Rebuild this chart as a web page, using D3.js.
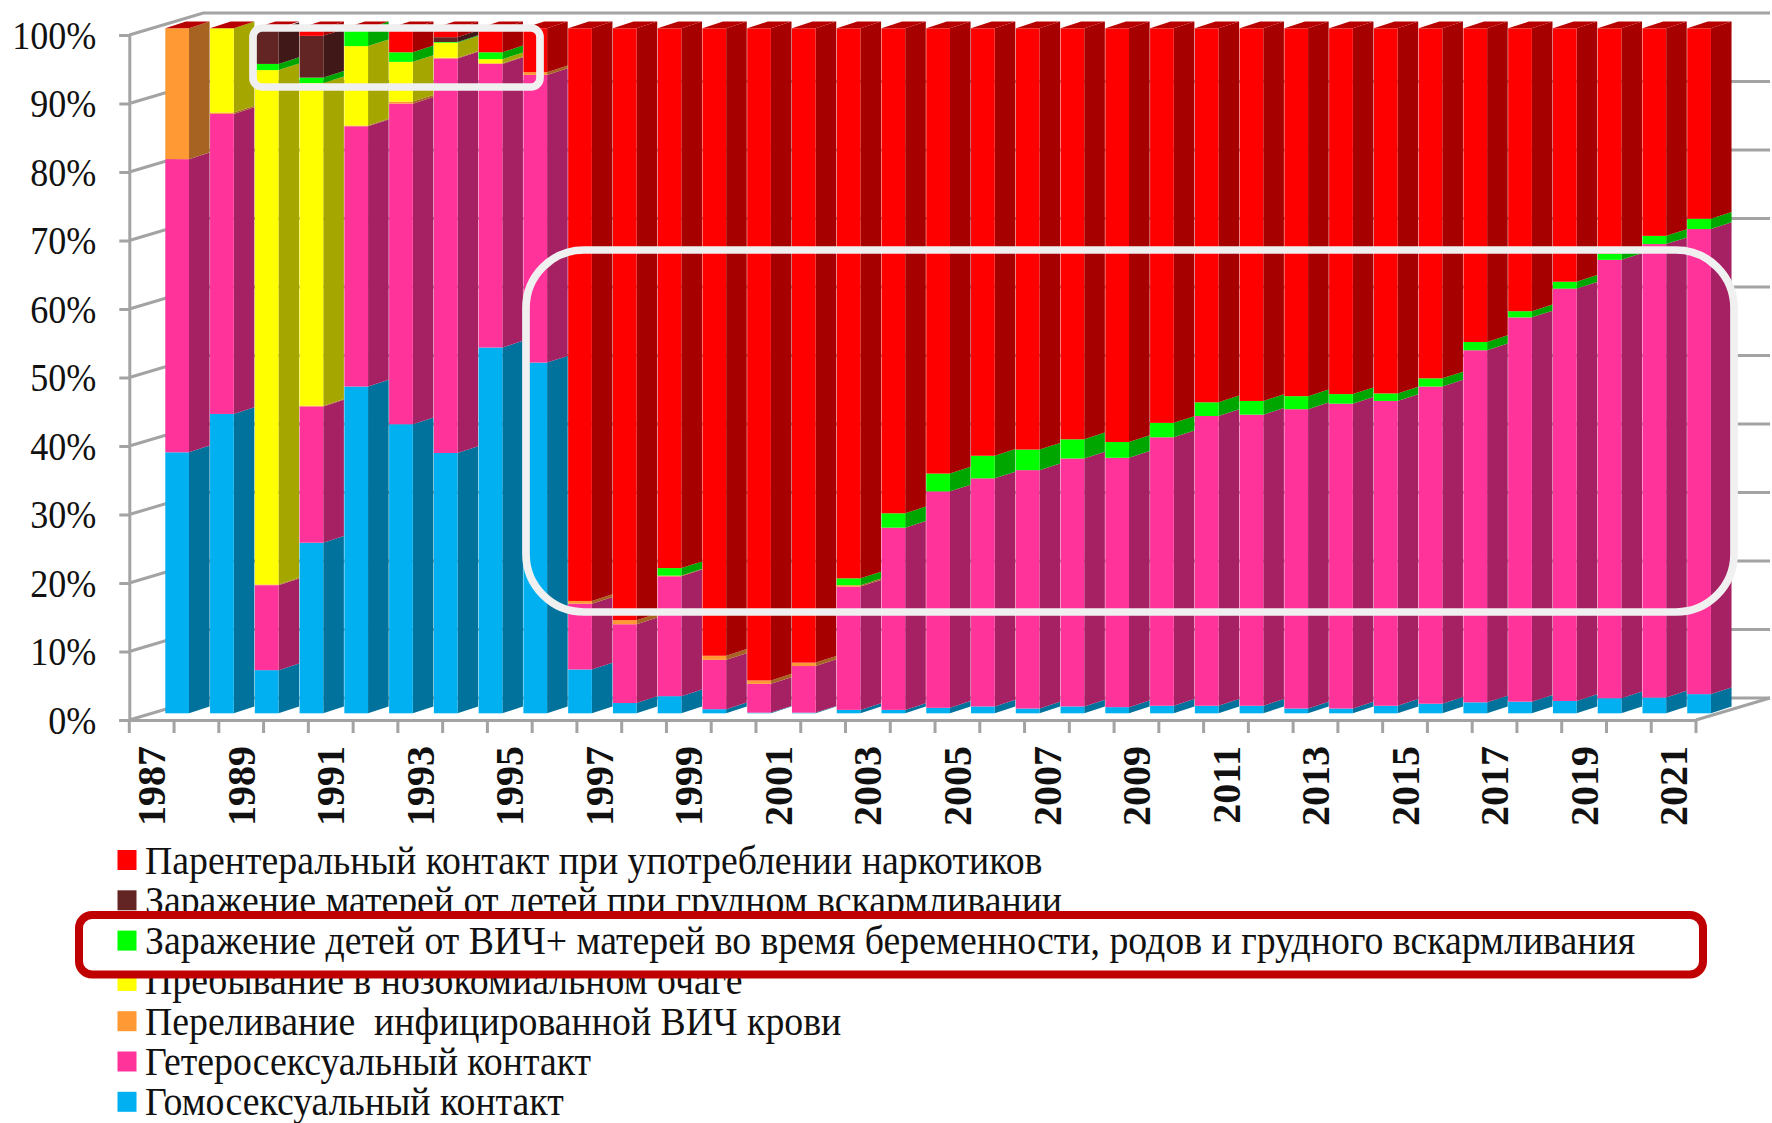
<!DOCTYPE html>
<html>
<head>
<meta charset="utf-8">
<script src="https://cdn.jsdelivr.net/npm/d3@7"></script>
<style>
  html, body { margin: 0; background: #fff; }
  svg { display: block; }
  text { font-family: "Liberation Serif", serif; fill: #111; }
  .legend text { white-space: pre; }
</style>
</head>
<body>
<div id="chart"></div>
<script>
const years = d3.range(1987, 2022);

//shares in percent, bottom of the stack first
const homo = [38.1, 43.7, 6.3, 24.9, 47.7, 42.2, 38.0, 53.4, 51.2, 6.4, 1.5, 2.5, 0.6, 0.1, 0.1, 0.5, 0.5, 0.8, 1.0, 0.7, 1.0, 0.9, 1.1, 1.1, 1.1, 0.7, 0.7, 1.1, 1.4, 1.6, 1.7, 1.8, 2.2, 2.3, 2.8];
const hetero = [42.8, 43.8, 12.4, 19.9, 38.0, 46.8, 57.6, 41.4, 42.0, 9.6, 11.5, 17.5, 7.2, 4.2, 6.8, 18.0, 26.6, 31.6, 33.3, 34.8, 36.2, 36.4, 39.2, 42.3, 42.5, 43.7, 44.5, 44.5, 46.3, 51.4, 56.1, 60.2, 64.0, 66.2, 67.9];
const transfusion = [19.1, 0.2, 0.1, 0.1, 0.1, 0.3, 0.1, 0.1, 0.4, 0.4, 0.6, 0.1, 0.6, 0.5, 0.5, 0.2, 0, 0, 0, 0, 0, 0, 0, 0, 0, 0, 0, 0, 0, 0, 0, 0, 0, 0, 0];
const nosocomial = [0, 12.3, 75.1, 47.1, 11.6, 5.8, 2.2, 0.6, 0, 0, 0, 0, 0, 0, 0, 0, 0, 0, 0, 0, 0, 0, 0, 0, 0, 0, 0, 0, 0, 0, 0, 0, 0, 0, 0];
const children = [0, 0, 0.9, 0.8, 2.6, 1.4, 0.1, 1.0, 0, 0, 0, 1.1, 0, 0, 0, 1.0, 2.1, 2.6, 3.3, 3.0, 2.8, 2.3, 2.1, 2.0, 2.0, 1.9, 1.4, 1.1, 1.2, 1.2, 0.9, 1.0, 0.9, 1.2, 1.5];
const mothers = [0, 0, 5.1, 6.1, 0, 0, 0.7, 0, 0, 0, 0, 0, 0, 0, 0, 0, 0, 0, 0, 0, 0, 0, 0, 0, 0, 0, 0, 0, 0, 0, 0, 0, 0, 0, 0];
const drugs = [0, 0, 0, 1.1, 0, 3.5, 1.3, 3.5, 6.4, 83.6, 86.4, 78.8, 91.6, 95.2, 92.6, 80.3, 70.8, 65.0, 62.4, 61.5, 60.0, 60.4, 57.6, 54.6, 54.4, 53.7, 53.4, 53.3, 51.1, 45.8, 41.3, 37.0, 32.9, 30.3, 27.8];

const seriesKeys = ["homo", "hetero", "transfusion", "nosocomial", "children", "mothers", "drugs"];
const seriesValues = [homo, hetero, transfusion, nosocomial, children, mothers, drugs];
const seriesColors = ["#00b0f0", "#ff3399", "#ff9933", "#ffff00", "#00ff00", "#632523", "#ff0000"];

//legend runs top to bottom, opposite to the stack
const legendLabels = [
  "Парентеральный контакт при употреблении наркотиков",
  "Заражение матерей от детей при грудном вскармливании",
  "Заражение детей от ВИЧ+ матерей во время беременности, родов и грудного вскармливания",
  "Пребывание в нозокомиальном очаге",
  "Переливание  инфицированной ВИЧ крови",
  "Гетеросексуальный контакт",
  "Гомосексуальный контакт",
];
const legendColors = ["#ff0000", "#632523", "#00ff00", "#ffff00", "#ff9933", "#ff3399", "#00b0f0"];

const yTicks = d3.range(0, 101, 10);

//data process
const rows = years.map((year, i) => {
  const row = { year };
  seriesKeys.forEach((key, k) => (row[key] = seriesValues[k][i]));
  return row;
});
const stacked = d3.stack().keys(seriesKeys)(rows);

//size
const width = 1772;
const height = 1123;
const wall = { dx: 74, dy: -22 }; // depth of the 3d box
const bar = { offset: 36, lift: 6.7, width: 23.7, dx: 20.6, dy: -6.7 };
const axisColor = "#a3a3a3";

//scale
const xScale = d3.scaleBand().domain(years).range([129.3, 1696]);
const yScale = d3.scaleLinear().domain([0, 100]).range([720, 35]);
const colorScale = d3.scaleOrdinal(seriesKeys, seriesColors);

const shade = (color, k) => {
  const c = d3.rgb(color);
  return d3.rgb(c.r * k, c.g * k, c.b * k).formatHex();
};

//create element
const svg = d3
  .select("#chart")
  .append("svg")
  .attr("width", width)
  .attr("height", height)
  .attr("viewBox", [0, 0, width, height]);

//walls
const x0 = xScale.range()[0];
const x1 = xScale.range()[1];
const walls = svg.append("g").attr("class", "walls").attr("fill", "none").attr("stroke", axisColor).attr("stroke-width", 3);

walls
  .selectAll("path.grid")
  .data(yTicks)
  .join("path")
  .attr("class", "grid")
  .attr("d", (d) => `M${x0},${yScale(d)}L${x0 + wall.dx},${yScale(d) + wall.dy}H${x1 + wall.dx}`);

walls
  .append("path")
  .attr("d", `M${x1},${yScale(0)}L${x1 + wall.dx},${yScale(0) + wall.dy}`);

//bars
const columns = svg
  .append("g")
  .attr("class", "mark")
  .selectAll("g")
  .data(rows)
  .join("g");

const barX = (d) => xScale(d.year) + bar.offset;
const segY = (v) => yScale(v) - bar.lift;

columns.each(function (row, i) {
  const g = d3.select(this);
  const x = barX(row);

  stacked.forEach((s) => {
    const [v0, v1] = s[i];
    if (v1 - v0 <= 0) return;
    const color = colorScale(s.key);

    g.append("path")
      .attr("fill", shade(color, 0.65))
      .attr("d", `M${x + bar.width},${segY(v0)}l${bar.dx},${bar.dy}V${segY(v1) + bar.dy}l${-bar.dx},${-bar.dy}Z`);

    g.append("rect")
      .attr("fill", color)
      .attr("x", x)
      .attr("y", segY(v1))
      .attr("width", bar.width)
      .attr("height", segY(v0) - segY(v1));
  });

  //top face
  g.append("path")
    .attr("fill", shade("#ff0000", 0.72))
    .attr("d", `M${x},${segY(100)}h${bar.width}l${bar.dx},${bar.dy}h${-bar.width}Z`);
});

//y-axis
const yAxis = svg
  .append("g")
  .attr("class", "axis y-axis")
  .attr("transform", `translate(${x0},0)`)
  .call(d3.axisLeft(yScale).tickValues(yTicks).tickSize(10).tickPadding(23).tickFormat((d) => d + "%"));

//x-axis
const xAxis = svg
  .append("g")
  .attr("class", "axis x-axis")
  .attr("transform", `translate(0,${yScale(0)})`)
  .call(
    d3
      .axisBottom(xScale)
      .tickSize(0)
      .tickFormat((d) => ((d - 1987) % 2 ? "" : d))
  );

svg.selectAll(".axis path.domain").attr("stroke", axisColor).attr("stroke-width", 3);
svg.selectAll(".y-axis line").attr("stroke", axisColor).attr("stroke-width", 3);
svg.selectAll(".x-axis .tick line").remove();

//x ticks sit between the years, on the band edges
svg
  .select(".x-axis")
  .selectAll("line.edge")
  .data(years.concat(years[years.length - 1] + 1))
  .join("line")
  .attr("class", "edge")
  .attr("x1", (d, i) => x0 + i * xScale.step())
  .attr("x2", (d, i) => x0 + i * xScale.step())
  .attr("y2", 13)
  .attr("stroke", axisColor)
  .attr("stroke-width", 3);

yAxis.selectAll("text").attr("font-size", 41).attr("fill", "#111");
yAxis.selectAll("text").each(squeeze(0.88));

xAxis
  .selectAll(".tick text")
  .attr("font-size", 40)
  .attr("font-weight", "bold")
  .attr("fill", "#000")
  .attr("text-anchor", "end")
  .attr("dy", "0.34em")
  .attr("transform", "translate(0,26) rotate(-90)")
  .attr("x", 0)
  .attr("y", 0);

//white highlight frames
const frames = svg.append("g").attr("class", "frames").attr("fill", "none").attr("stroke", "#f0f0f0").attr("stroke-width", 7.7);
frames.append("rect").attr("x", 253).attr("y", 28).attr("width", 287).attr("height", 59).attr("rx", 9);
frames.append("rect").attr("x", 526).attr("y", 250).attr("width", 1208).attr("height", 362).attr("rx", 58);

//legend
const legend = svg.append("g").attr("class", "legend");
const legendY = (i) => 859.5 + i * 40.3;

const drawLegendRow = (i) => {
  const g = legend.append("g").attr("transform", `translate(0,${legendY(i)})`);
  g.append("rect")
    .attr("x", 117.5)
    .attr("y", -9.5)
    .attr("width", 19)
    .attr("height", 20)
    .attr("fill", legendColors[i]);
  g.append("text")
    .attr("x", 145)
    .attr("y", 14)
    .attr("font-size", 39)
    .text(legendLabels[i])
    .each(squeeze(0.969));
};

//the red frame has a white inside and covers parts of the rows around it
[0, 1, 3, 4, 5, 6].forEach(drawLegendRow);
legend
  .append("rect")
  .attr("x", 79)
  .attr("y", 915)
  .attr("width", 1624)
  .attr("height", 59.5)
  .attr("rx", 13)
  .attr("fill", "#fff")
  .attr("stroke", "#c00000")
  .attr("stroke-width", 8);
drawLegendRow(2);

function squeeze(k) {
  return function () {
    const el = d3.select(this);
    el.attr("textLength", this.getComputedTextLength() * k).attr("lengthAdjust", "spacingAndGlyphs");
  };
}
</script>
</body>
</html>
